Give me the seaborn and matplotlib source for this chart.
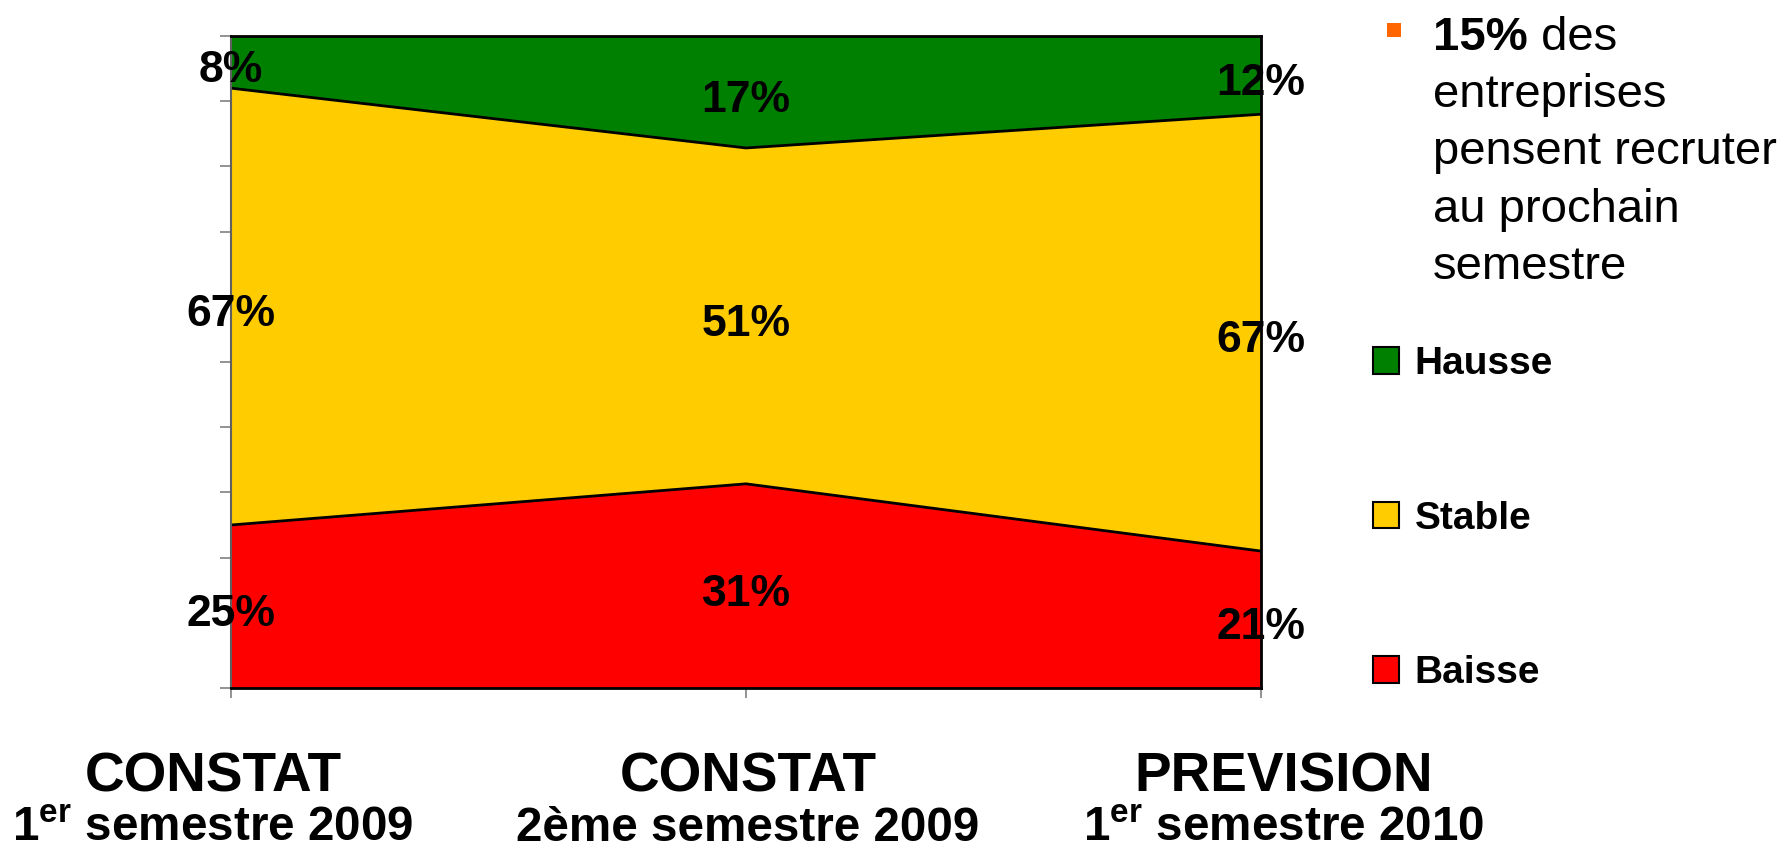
import numpy as np
import pandas as pd
import seaborn as sns
import matplotlib.pyplot as plt
from matplotlib.patches import Patch, Rectangle

# values (percent of companies)
periodes = ["CONSTAT", "CONSTAT", "PREVISION"]
sous_titres = ["1$^{\\mathrm{er}}$ semestre 2009",
               "2ème semestre 2009",
               "1$^{\\mathrm{er}}$ semestre 2010"]
baisse = [25, 31, 21]
stable = [67, 51, 67]
hausse = [8, 17, 12]
series = ["Baisse", "Stable", "Hausse"]
couleurs = {"Baisse": "#FF0000", "Stable": "#FFCC00", "Hausse": "#008000"}
# the period captions are not exactly centred on the ticks in the original
decalage = [-0.035, 0.004, 0.045]

sns.set_theme(style="white")
plt.rcParams["font.family"] = ["Liberation Sans", "DejaVu Sans"]
plt.rcParams["text.color"] = "black"
plt.rcParams["mathtext.fontset"] = "custom"
plt.rcParams["mathtext.rm"] = "Liberation Sans:bold"
plt.rcParams["mathtext.it"] = "Liberation Sans:bold"
plt.rcParams["mathtext.bf"] = "Liberation Sans:bold"

df = pd.DataFrame({"Baisse": baisse, "Stable": stable, "Hausse": hausse})
df["x"] = np.arange(len(df))
# 100% stacked: shares of each period
parts = df[series].div(df[series].sum(axis=1), axis=0)
cumul = parts.cumsum(axis=1)

fig = plt.figure(figsize=(17.86, 8.51), dpi=100)
ax = fig.add_axes([231 / 1786, 1 - 688 / 851, 1030 / 1786, 652 / 851])

ax.stackplot(df["x"], *[parts[s] for s in series],
             colors=[couleurs[s] for s in series], linewidth=0)
# black borders between the layers
for s in ["Baisse", "Stable"]:
    sns.lineplot(x=df["x"], y=cumul[s], ax=ax, color="black", lw=2)

ax.set_xlim(0, 2)
ax.set_ylim(0, 1)
ax.set_ylabel("")
ax.set_xlabel("")

# percentage labels, centred in each layer
for s in series:
    milieu = cumul[s] - parts[s] / 2
    for xi, yi, v in zip(df["x"], milieu, df[s]):
        ax.annotate(f"{v}%", xy=(xi, yi), xytext=(0, -6),
                    textcoords="offset points", ha="center", va="center",
                    fontsize=32, fontweight="bold", color="black",
                    annotation_clip=False)

ax.set_yticks(np.linspace(0, 1, 11))
ax.set_yticklabels([])
ax.set_xticks(df["x"])
ax.set_xticklabels([])
ax.tick_params(axis="y", length=8, width=1.2, color="#808080", left=True)
ax.tick_params(axis="x", length=7.5, width=1.2, color="#808080", bottom=True)
for xi, d, p, t in zip(df["x"], decalage, periodes, sous_titres):
    ax.text(xi + d, -0.158, p, transform=ax.get_xaxis_transform(),
            ha="center", va="baseline", fontsize=39.5, fontweight="bold")
    ax.text(xi + d, -0.234, t, transform=ax.get_xaxis_transform(),
            ha="center", va="baseline", fontsize=34.3, fontweight="bold")

ax.spines["left"].set_color("#606060")
ax.spines["left"].set_linewidth(1.5)
for side in ["top", "right", "bottom"]:
    ax.spines[side].set_color("black")
    ax.spines[side].set_linewidth(2)
ax.grid(False)

# legend, Hausse on top
handles = [Patch(facecolor=couleurs[s], edgecolor="black", linewidth=1.5)
           for s in series[::-1]]
fig.legend(handles, series[::-1], loc="upper left",
           bbox_to_anchor=(1373 / 1786, 1 - 346 / 851),
           frameon=False, prop={"size": 28, "weight": "bold"},
           labelcolor="black",
           handlelength=0.67, handleheight=0.67, handletextpad=0.4,
           labelspacing=3.05, borderpad=0, borderaxespad=0)

# side note
fig.add_artist(Rectangle((1387 / 1786, 1 - 37 / 851), 14 / 1786, 14 / 851,
                         transform=fig.transFigure, color="#FF6600", lw=0))
t1 = fig.text(1433 / 1786, 1 - 50 / 851, "15%", fontsize=34,
              fontweight="bold", va="baseline", ha="left")
ax.annotate(" des", xy=(1, 0), xycoords=t1, va="bottom", ha="left",
            fontsize=34)
fig.text(1433 / 1786, 1 - 279 / 851,
         "entreprises\npensent recruter\nau prochain\nsemestre",
         fontsize=34, va="baseline", ha="left", linespacing=1.39)

fig.savefig("out.png", dpi=100)
